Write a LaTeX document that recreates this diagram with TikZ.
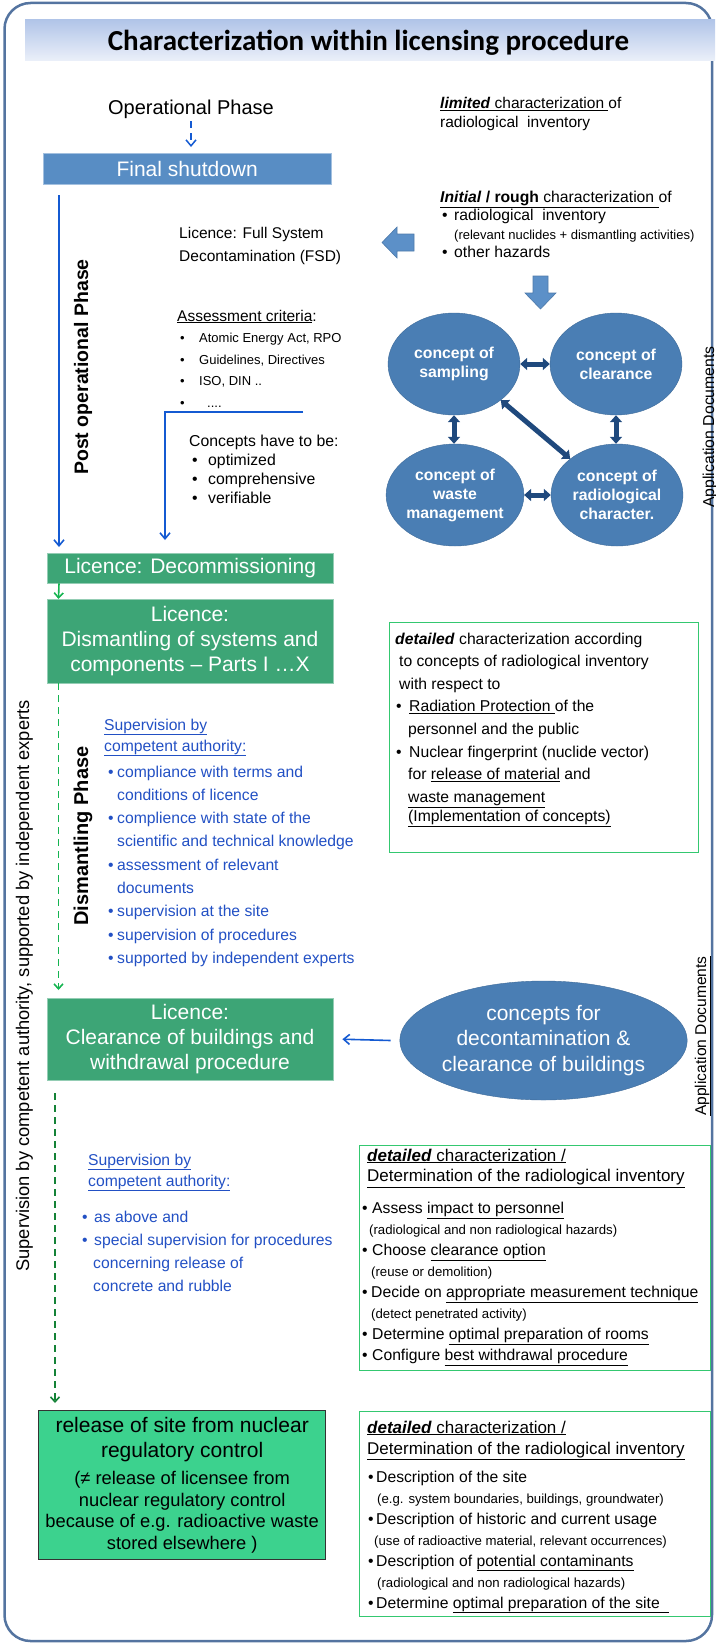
\documentclass[tikz,border=0pt]{standalone}
\usepackage{fontspec}
\setmainfont{Liberation Sans}
\newfontfamily\titlefont{Carlito}
\usetikzlibrary{arrows.meta,shapes.geometric}

\definecolor{framecol}{RGB}{84,116,160}
\definecolor{bandtop}{RGB}{176,196,232}
\definecolor{bandbot}{RGB}{234,239,249}
\definecolor{shutblue}{RGB}{88,141,196}
\definecolor{licgreen}{RGB}{61,165,118}
\definecolor{sitegreen}{RGB}{60,210,142}
\definecolor{conceptblue}{RGB}{74,126,180}
\definecolor{darkarrow}{RGB}{31,73,125}
\definecolor{linkblue}{RGB}{20,90,210}
\definecolor{supblue}{RGB}{34,80,196}
\definecolor{brightgreen}{RGB}{20,180,80}
\definecolor{darkgreen}{RGB}{20,130,55}
\definecolor{boxgreen}{RGB}{52,200,112}
\definecolor{blockblue}{RGB}{92,144,200}

\newcommand{\setfs}[2]{\fontsize{#1}{#2}\selectfont}
\newcommand{\bitem}[1]{\makebox[#1][l]{\textbullet}}

% multi-line texts: the base anchor sits on the last line
\tikzset{
  txt/.style={inner sep=0pt, anchor=base west, align=left},
  vtext/.style={inner sep=0pt, anchor=base, rotate=90},
  phasebox/.style={rectangle, fill=shutblue, draw=shutblue!55!white, text=white,
    inner sep=0pt, anchor=north west, font=\setfs{21}{25}, align=center},
  licbox/.style={rectangle, fill=licgreen, draw=licgreen!55!white, text=white,
    inner sep=0pt, anchor=north west, minimum width=286.5pt, font=\setfs{21}{25}, align=center},
  concept/.style={ellipse, fill=conceptblue, draw=conceptblue!85!black, text=white,
    inner sep=0pt, minimum width=132pt, minimum height=102pt,
    font=\bfseries\setfs{15.8}{19}, align=center},
  detailbox/.style={rectangle, draw=boxgreen, line width=1.3pt, inner sep=0pt, anchor=north west},
  twoway/.style={{Triangle[length=7pt,width=12pt]}-{Triangle[length=7pt,width=12pt]},
    line width=5pt, draw=darkarrow},
  bluearrow/.style={-{Straight Barb[length=6pt,width=10pt]}, draw=linkblue, line width=1.6pt},
  greendash/.style={-{Straight Barb[length=5pt,width=9pt]}, line width=1.6pt,
    dash pattern=on 7pt off 5pt},
  blockarrow/.style={fill=blockblue, draw=blockblue!85!black, line width=0.6pt},
}

\begin{document}
\begin{tikzpicture}[x=1pt, y=-1pt]
  \useasboundingbox (0,0) rectangle (715,1643);

  % frame and title
  \draw[framecol, line width=2.5pt, rounded corners=26pt] (4.5,3) rectangle (712,1641);
  \node[anchor=north west, minimum width=690pt, minimum height=41pt, inner sep=0pt,
    top color=bandtop, bottom color=bandbot] (band) at (25,19) {};
  \node[anchor=base, inner sep=0pt, font=\titlefont\bfseries\setfs{29}{34}] (title)
    at (368.5,51) {Characterization within licensing procedure};

  % left column
  \node[anchor=base, inner sep=0pt, font=\setfs{20}{24}] (opphase) at (191,115) {Operational Phase};
  \node[phasebox, minimum width=288pt, minimum height=31pt] (shutdown) at (43,153) {Final shutdown};
  \node[licbox, minimum width=286pt, minimum height=30pt] (decom) at (47,553) {Licence: Decommissioning};
  \node[licbox, minimum height=84pt] (dismant) at (46.5,599)
    {Licence:\\Dismantling of systems and\\components – Parts I …X};
  \node[licbox, minimum height=82pt] (clear) at (46.5,998)
    {Licence:\\Clearance of buildings and\\withdrawal procedure};
  \node[rectangle, fill=sitegreen, draw=black!80, line width=1.3pt, minimum width=287pt,
    minimum height=149pt, anchor=north west, inner sep=0pt, align=center,
    font=\setfs{18.3}{21.7}] (site) at (38,1410)
    {{\setfs{21}{25}release of site from nuclear}\\[3.3pt]
     {\setfs{21}{25}regulatory control}\\[5.3pt]
     (≠ release of licensee from\\nuclear regulatory control\\
     because of e.g. radioactive waste\\stored elsewhere )};

  \node[vtext, font=\bfseries\setfs{19.5}{23}] (postop) at (88,367) {Post operational Phase};
  \node[vtext, font=\bfseries\setfs{20}{24}] (dismphase) at (88,836) {Dismantling Phase};
  \node[vtext, font=\setfs{18.3}{22}] (supervision) at (29,986)
    {Supervision by competent authority, supported by independent experts};

  \draw[bluearrow, dash pattern=on 7pt off 5pt, line width=1.5pt]
    ([yshift=-2pt]opphase.south) -- ([yshift=6pt]opphase.south |- shutdown.north);
  \draw[bluearrow] ([xshift=16pt,yshift=-11pt]shutdown.south west)
    -- ([xshift=12pt,yshift=6pt]decom.north west);
  \coordinate (critend) at (303,412);
  \draw[bluearrow] (critend) -| ([xshift=118pt,yshift=13pt]decom.north west);
  \draw[-{Straight Barb[length=5pt,width=9pt]}, brightgreen, line width=1.6pt]
    ([xshift=12pt]decom.south west) -- ([xshift=12pt]dismant.north west);
  \draw[greendash, brightgreen] ([xshift=12pt]dismant.south west)
    -- ([xshift=12pt,yshift=8pt]clear.north west);
  \draw[greendash, darkgreen] ([xshift=8.5pt,yshift=-13pt]clear.south west)
    -- ([xshift=17pt,yshift=7pt]site.north west);

  % texts of the post operational phase
  \node[txt, font=\setfs{15.5}{23}] (fsd) at (179,261) {Licence: Full System\\Decontamination (FSD)};
  \node[txt, font=\setfs{13}{21.5}] (criteria) at (177,407)
    {{\setfs{15.5}{21.5}\underline{Assessment criteria}:}\\
     \hspace{3pt}\bitem{19pt}Atomic Energy Act, RPO\\
     \hspace{3pt}\bitem{19pt}Guidelines, Directives\\
     \hspace{3pt}\bitem{19pt}ISO, DIN ..\\
     \hspace{3pt}\bitem{27pt}....};
  \node[txt, font=\setfs{15.8}{18.7}] (musts) at (189,503)
    {Concepts have to be:\\
     \hspace{3pt}\bitem{16pt}optimized\\
     \hspace{3pt}\bitem{16pt}comprehensive\\
     \hspace{3pt}\bitem{16pt}verifiable};

  % characterization, upper right
  \node[txt, font=\setfs{15.5}{19}] (limited) at (440,128)
    {\underline{\textbf{\textit{limited}} characterization }of\\radiological\ \ inventory};
  \node[txt, font=\setfs{15.7}{18.5}] (initial) at (440,257.5)
    {\underline{\textbf{\textit{Initial} / rough} characterization }of\\
     \hspace{2pt}\bitem{12pt}radiological\ \ inventory\\
     \hspace{14pt}{\setfs{13}{18.5}(relevant nuclides + dismantling activities)}\\
     \hspace{2pt}\bitem{12pt}other hazards};
  \filldraw[blockarrow] (414,234) -- (414,251) -- (397,251) -- (397,258) -- (382,242.5)
    -- (397,227) -- (397,234) -- cycle;
  \filldraw[blockarrow] (533,276) -- (548,276) -- (548,293) -- (556,293) -- (540.5,309)
    -- (525,293) -- (533,293) -- cycle;

  \node[concept] (sampling) at (454,364) {concept of\\sampling};
  \node[concept] (clearance) at (616,364) {concept of\\clearance};
  \node[concept] (waste) at (455,495) {concept of\\waste\\management};
  \node[concept] (radio) at (617,495) {concept of\\radiological\\character.};
  \draw[twoway] (sampling.east) -- (sampling.east -| clearance.west);
  \draw[twoway] (sampling.south) -- (sampling.south |- waste.north);
  \draw[twoway] (clearance.south) -- (clearance.south |- radio.north);
  \draw[twoway] (waste.east) -- (waste.east -| radio.west);
  \draw[twoway] (sampling.south east) -- (radio.north west);
  \node[vtext, font=\setfs{15.8}{19}] (appdoc) at (714,427) {Application Documents};

  % dismantling phase
  \node[txt, text=supblue, font=\setfs{15.7}{21}] (suphead) at (104,751)
    {\underline{Supervision by}\\\underline{competent authority:}};
  \node[txt, text=supblue, font=\setfs{15.7}{23.3}] (suplist) at (108,963.4)
    {\bitem{9pt}compliance with terms and\\
     \hspace{9pt}conditions of licence\\
     \bitem{9pt}complience with state of the\\
     \hspace{9pt}scientific and technical knowledge\\
     \bitem{9pt}assessment of relevant\\
     \hspace{9pt}documents\\
     \bitem{9pt}supervision at the site\\
     \bitem{9pt}supervision of procedures\\
     \bitem{9pt}supported by independent experts};

  \node[detailbox, minimum width=309pt, minimum height=230pt] (detail1) at (389,622) {};
  \node[txt, font=\setfs{15.7}{22.6}] (detail1text) at (395,821.2)
    {\textbf{\textit{detailed}} characterization according\\
     \hspace{4pt}to concepts of radiological inventory\\
     \hspace{4pt}with respect to\\
     \hspace{1pt}\bitem{13pt}\underline{Radiation Protection }of the\\
     \hspace{13pt}personnel and the public\\
     \hspace{1pt}\bitem{13pt}Nuclear fingerprint (nuclide vector)\\
     \hspace{13pt}for \underline{release of material} and\\
     \hspace{13pt}\underline{waste management}\\[-3.6pt]
     \hspace{13pt}\underline{(Implementation of concepts)}};

  % clearance of buildings
  \node[ellipse, fill=conceptblue, draw=conceptblue!85!black, text=white, inner sep=0pt,
    minimum width=257pt, minimum height=119pt, align=center, font=\setfs{21}{25.5}]
    (deconcept) at (543.5,1040.5) {concepts for\\decontamination \&\\clearance of buildings};
  \draw[bluearrow] ([xshift=-9pt]deconcept.west) -- ([xshift=9pt]clear.east);
  \node[vtext, font=\setfs{15.6}{19}] (appdoc2) at (706,1036) {\underline{Application Documents}};

  \node[txt, text=supblue, font=\setfs{15.7}{21}] (suphead2) at (88,1186)
    {\underline{Supervision by}\\\underline{competent authority:}};
  \node[txt, text=supblue, font=\setfs{15.7}{23}] (suplist2) at (82,1291)
    {\bitem{12pt}as above and\\
     \bitem{12pt}special supervision for procedures\\
     \hspace{11pt}concerning release of\\
     \hspace{11pt}concrete and rubble};

  \node[detailbox, minimum width=351pt, minimum height=225pt] (detail2) at (359,1145) {};
  \node[txt, font=\setfs{15.7}{20.9}] (detail2text) at (362,1360.1)
    {\hspace{5pt}{\setfs{17}{20.9}\underline{\textbf{\textit{detailed}} characterization /}}\\
     \hspace{5pt}{\setfs{17}{20.9}\underline{Determination of the radiological inventory}}\\[11pt]
     \bitem{10pt}Assess \underline{impact to personnel}\\
     \hspace{7pt}{\setfs{13.2}{20.9}(radiological and non radiological hazards)}\\
     \bitem{10pt}Choose \underline{clearance option}\\
     \hspace{9pt}{\setfs{13.2}{20.9}(reuse or demolition)}\\
     \bitem{9pt}Decide on \underline{appropriate measurement technique}\\
     \hspace{9pt}{\setfs{13.2}{20.9}(detect penetrated activity)}\\
     \bitem{10pt}Determine \underline{optimal preparation of rooms}\\
     \bitem{10pt}Configure \underline{best withdrawal procedure}};

  % release of site
  \node[detailbox, minimum width=351pt, minimum height=205pt] (detail3) at (359,1411) {};
  \node[txt, font=\setfs{15.7}{21}] (detail3text) at (367,1608)
    {{\setfs{17}{21}\underline{\textbf{\textit{detailed}} characterization /}}\\
     {\setfs{17}{21}\underline{Determination of the radiological inventory}}\\[7pt]
     \hspace{1pt}\bitem{8pt}Description of the site\\
     \hspace{10pt}{\setfs{13.2}{21}(e.g. system boundaries, buildings, groundwater)}\\
     \hspace{1pt}\bitem{8pt}Description of historic and current usage\\
     \hspace{7pt}{\setfs{13.2}{21}(use of radioactive material, relevant occurrences)}\\
     \hspace{1pt}\bitem{8pt}Description of \underline{potential contaminants}\\
     \hspace{10pt}{\setfs{13.2}{21}(radiological and non radiological hazards)}\\
     \hspace{1pt}\bitem{8pt}Determine \underline{optimal preparation of the site\ \ }};
\end{tikzpicture}
\end{document}
